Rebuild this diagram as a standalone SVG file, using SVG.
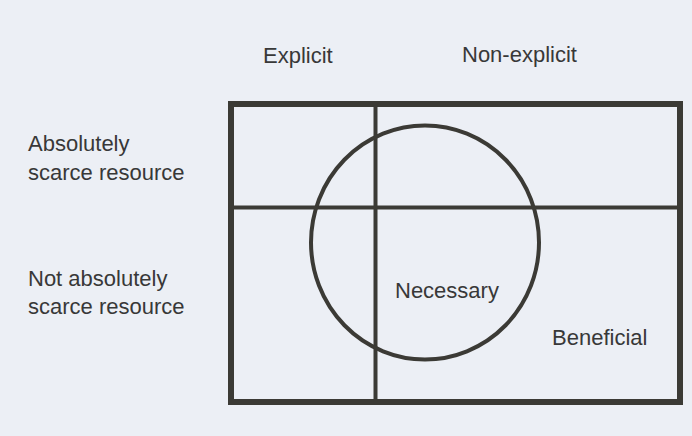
<svg xmlns="http://www.w3.org/2000/svg" width="692" height="436" viewBox="0 0 692 436">
<style>
.t{font-family:"Liberation Sans",Arial,sans-serif;font-size:22px;fill:#383838}
.ln{stroke:#3b3a35;fill:none}
</style>
<rect x="0" y="0" width="692" height="436" fill="#eceff5"/>
<g id="frame">
<rect class="ln" x="231" y="104" width="449" height="298" stroke-width="6"/>
</g>
<g id="connectors">
<line class="ln" x1="375.5" y1="104" x2="375.5" y2="402" stroke-width="4"/>
<line class="ln" x1="231" y1="207.5" x2="680" y2="207.5" stroke-width="4"/>
</g>
<g id="necessary">
<ellipse class="ln" cx="425" cy="242.5" rx="114" ry="117" stroke-width="4"/>
<text class="t" x="395" y="298">Necessary</text>
</g>
<g id="explicit"><text class="t" x="263" y="63">Explicit</text></g>
<g id="non-explicit"><text class="t" x="462" y="62">Non-explicit</text></g>
<g id="absolutely"><text class="t" x="28" y="151">Absolutely</text><text class="t" x="28" y="180">scarce resource</text></g>
<g id="not-absolutely"><text class="t" x="28" y="286">Not absolutely</text><text class="t" x="28" y="314">scarce resource</text></g>
<g id="beneficial"><text class="t" x="552" y="345">Beneficial</text></g>
</svg>
